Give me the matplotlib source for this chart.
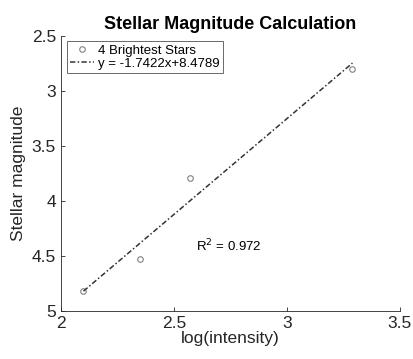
import numpy as np
import matplotlib.pyplot as plt

plt.rcParams['font.family'] = ['Liberation Sans', 'DejaVu Sans']

# data
log_intensity = [2.10, 2.35, 2.57, 3.29]
magnitude = [4.82, 4.53, 3.79, 2.80]
slope = -1.7422
intercept = 8.4789
r_squared = 0.972

xticks = [2, 2.5, 3, 3.5]
yticks = [2.5, 3, 3.5, 4, 4.5, 5]

fig = plt.figure(figsize=(4.14, 3.59), dpi=100)
ax = fig.add_axes([0.147, 0.134, 0.819, 0.766])

ax.plot(log_intensity, magnitude, 'o', mfc='none', mec='#808080',
        ms=4, mew=0.8, label='4 Brightest Stars')
fit_x = np.array([min(log_intensity), max(log_intensity)])
ax.plot(fit_x, slope * fit_x + intercept, '-.', color='#333333', lw=1.1,
        dashes=(3.5, 1.5, 1, 1.5),
        label='y = %.4fx+%.4f' % (slope, intercept))

ax.text(2.6, 4.41, r'R$^2$ = %.3f' % r_squared, fontsize=9.5, va='center')

ax.set_xlim(2, 3.5)
ax.set_ylim(5, 2.5)
ax.set_xticks(xticks)
ax.set_xticklabels(['2', '2.5', '3', '3.5'])
ax.set_yticks(yticks)
ax.set_yticklabels(['2.5', '3', '3.5', '4', '4.5', '5'])
ax.tick_params(direction='in', length=3, labelsize=12.5, colors='#262626',
               width=0.6)
for s in ['top', 'right']:
    ax.spines[s].set_visible(False)
for s in ['left', 'bottom']:
    ax.spines[s].set_color('#262626')
    ax.spines[s].set_linewidth(0.6)

ax.set_xlabel('log(intensity)', fontsize=12.5, color='#262626', labelpad=0)
ax.set_ylabel('Stellar magnitude', fontsize=12.5, color='#262626', labelpad=4)
ax.set_title('Stellar Magnitude Calculation', fontsize=13, fontweight='bold',
             pad=5)

leg = ax.legend(loc='upper left', bbox_to_anchor=(0.01, 0.99), fontsize=9.5,
                fancybox=False, edgecolor='#262626', handlelength=1.8,
                handletextpad=0.3, borderpad=0.25, labelspacing=0.05,
                borderaxespad=0.2)
leg.get_frame().set_linewidth(0.6)

fig.savefig('out.png', dpi=100)
